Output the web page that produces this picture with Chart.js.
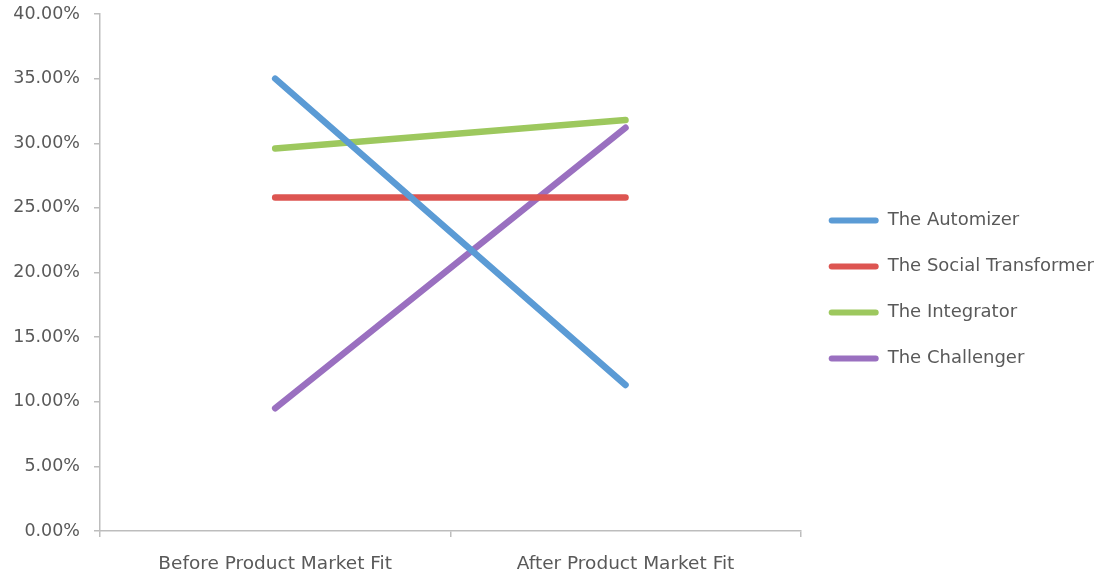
<!DOCTYPE html>
<html>
<head>
<meta charset="utf-8">
<script src="https://cdn.jsdelivr.net/npm/chart.js@4/dist/chart.umd.min.js"></script>
<style>
  html, body { margin: 0; padding: 0; background: #ffffff; }
  #wrap { width: 1104px; height: 579px; }
</style>
</head>
<body>
<div id="wrap"><canvas id="chart" width="1104" height="579"></canvas></div>
<script>
// Share of companies by archetype, before and after product market fit (percent)
const categories = ['Before Product Market Fit', 'After Product Market Fit'];
const seriesNames = ['The Automizer', 'The Social Transformer', 'The Integrator', 'The Challenger'];
const automizer = [35.0, 11.3];
const socialTransformer = [25.8, 25.8];
const integrator = [29.6, 31.8];
const challenger = [9.5, 31.2];
const yMin = 0;
const yMax = 40;
const yStep = 5;

const seriesValues = [automizer, socialTransformer, integrator, challenger];
const seriesColors = ['#5B9BD5', '#DD5551', '#9DC85E', '#9A70C0'];

const textColor = '#595959';
const axisColor = '#bdbdbd';
const fontFamily = '"DejaVu Sans", "Liberation Sans", sans-serif';

const datasets = seriesNames.map((name, i) => ({
  label: name,
  data: seriesValues[i],
  borderColor: seriesColors[i],
  backgroundColor: seriesColors[i],
  borderWidth: 6.5,
  borderCapStyle: 'round',
  borderJoinStyle: 'round',
  pointRadius: 0,
  pointHoverRadius: 0,
  tension: 0,
  fill: false
}));

new Chart(document.getElementById('chart'), {
  type: 'line',
  data: { labels: categories, datasets },
  options: {
    responsive: false,
    animation: false,
    devicePixelRatio: 1,
    layout: { padding: { top: 0, right: 0, bottom: 0, left: 0 } },
    plugins: {
      tooltip: { enabled: false },
      legend: {
        position: 'right',
        maxWidth: 400,
        labels: {
          boxWidth: 50,
          boxHeight: 6,
          useBorderRadius: true,
          borderRadius: 3,
          padding: 28,
          color: textColor,
          font: { family: fontFamily, size: 18 },
          // legend swatches are solid bars in the series colour, no outline
          generateLabels(chart) {
            return Chart.defaults.plugins.legend.labels.generateLabels(chart).map(item => ({
              ...item,
              lineWidth: 0,
              fillStyle: seriesColors[item.datasetIndex],
              strokeStyle: seriesColors[item.datasetIndex]
            }));
          }
        }
      }
    },
    scales: {
      x: {
        offset: true,
        border: { display: true, color: axisColor, width: 1.5 },
        grid: { drawOnChartArea: false, drawTicks: true, tickLength: 6, color: axisColor, lineWidth: 1.5, offset: true },
        ticks: { color: textColor, padding: 16, maxRotation: 0, font: { family: fontFamily, size: 18.5 } },
        afterFit(scale) { scale.height = 48; }
      },
      y: {
        min: yMin,
        max: yMax,
        border: { display: true, color: axisColor, width: 1.5 },
        grid: { drawOnChartArea: false, drawTicks: true, tickLength: 6, color: axisColor, lineWidth: 1.5 },
        ticks: {
          stepSize: yStep,
          color: textColor,
          padding: 14,
          font: { family: fontFamily, size: 17.5 },
          callback: (v) => Number(v).toFixed(2) + '%'
        },
        afterFit(scale) { scale.width = 100; scale.paddingTop = 14; }
      }
    }
  }
});
</script>
</body>
</html>
